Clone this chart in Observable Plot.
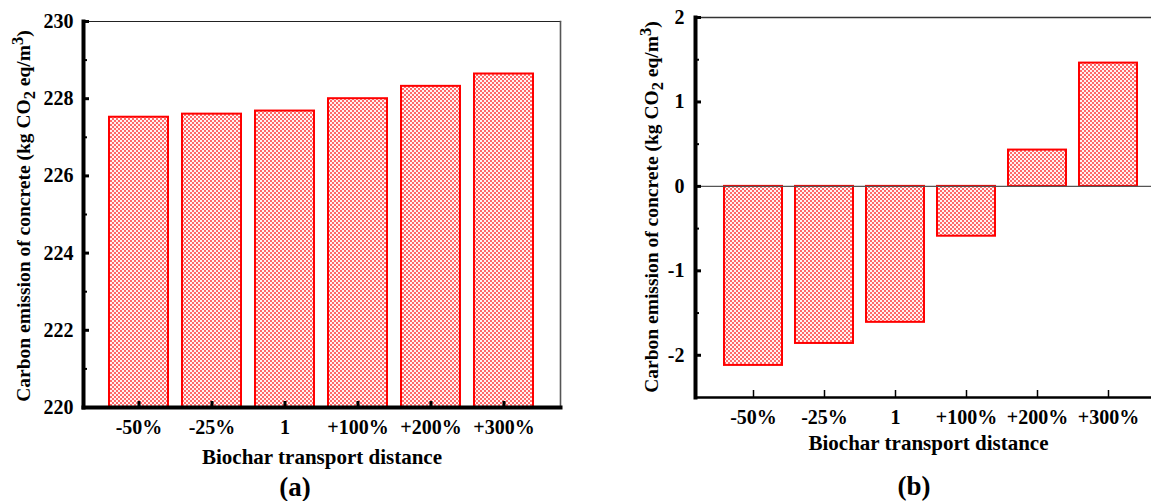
<!DOCTYPE html>
<html>
<head>
<meta charset="utf-8">
<script src="https://cdn.jsdelivr.net/npm/d3@7"></script>
<script src="https://cdn.jsdelivr.net/npm/@observablehq/plot@0.6"></script>
<style>
  html, body { margin: 0; padding: 0; background: #fff; overflow: hidden; }
  #wrap { position: relative; width: 1151px; height: 501px; font-family: "Liberation Serif", "Times New Roman", serif; font-weight: bold; color: #000; }
  .panel { position: absolute; top: 0; }
  .ylab { position: absolute; white-space: nowrap; font-size: 19.5px; transform: translate(-50%, -50%) rotate(-90deg); }
  .ylab sub, .ylab sup { font-size: 0.85em; }
  .cap { position: absolute; font-size: 27px; transform: translate(-50%, -50%); }
</style>
</head>
<body>
<div id="wrap">
  <div class="panel" id="pa" style="left:0px"></div>
  <div class="panel" id="pb" style="left:600px"></div>
  <div class="ylab" style="left:24px; top:216px">Carbon emission of concrete (kg CO<sub>2</sub> eq/m<sup>3</sup>)</div>
  <div class="ylab" style="left:652px; top:207px">Carbon emission of concrete (kg CO<sub>2</sub> eq/m<sup>3</sup>)</div>
  <div class="cap" style="left:295px; top:487px">(a)</div>
  <div class="cap" style="left:914px; top:486px">(b)</div>
</div>
<script>
// ---- data ----
const categories = ["-50%", "-25%", "1", "+100%", "+200%", "+300%"];
const emissionA = [227.52, 227.60, 227.68, 228.00, 228.32, 228.64];
const changeB = [-2.12, -1.86, -1.61, -0.59, 0.43, 1.46];
const yTicksA = [220, 222, 224, 226, 228, 230];
const yMinorA = [221, 223, 225, 227, 229];
const yTicksB = [-2, -1, 0, 1, 2];
const yMinorB = [-1.5, -0.5, 0.5, 1.5];
const xTitle = "Biochar transport distance";

const dataA = categories.map((c, i) => ({cat: c, value: emissionA[i]}));
const dataB = categories.map((c, i) => ({cat: c, value: changeB[i]}));

const RED = "#ff0000";
const font = "'Liberation Serif', 'Times New Roman', serif";

function addPattern(svg, id) {
  const ns = "http://www.w3.org/2000/svg";
  const defs = document.createElementNS(ns, "defs");
  const pat = document.createElementNS(ns, "pattern");
  pat.setAttribute("id", id);
  pat.setAttribute("patternUnits", "userSpaceOnUse");
  pat.setAttribute("width", "4");
  pat.setAttribute("height", "4");
  const bg = document.createElementNS(ns, "rect");
  bg.setAttribute("width", "4"); bg.setAttribute("height", "4");
  bg.setAttribute("fill", "#ff6a6a");
  pat.appendChild(bg);
  for (const [x, y] of [[0, 0], [2, 2]]) {
    const r = document.createElementNS(ns, "rect");
    r.setAttribute("x", x); r.setAttribute("y", y);
    r.setAttribute("width", "2"); r.setAttribute("height", "2");
    r.setAttribute("fill", "#fff4f4");
    pat.appendChild(r);
  }
  defs.appendChild(pat);
  svg.insertBefore(defs, svg.firstChild);
}

// ---- panel (a) ----
{
  const W = 580, H = 470, mL = 83, mR = 20, mT = 21, mB = 63;
  const fw = W - mL - mR, fh = H - mT - mB;
  const svg = Plot.plot({
    width: W, height: H,
    marginLeft: mL, marginRight: mR, marginTop: mT, marginBottom: mB,
    style: {fontFamily: font, fontWeight: "bold", background: "#fff", color: "#000", overflow: "visible"},
    x: {domain: categories, paddingInner: 0.19, paddingOuter: 0.36},
    y: {domain: [220, 230]},
    marks: [
      Plot.barY(dataA, {x: "cat", y1: 220, y2: "value", fill: "url(#hatchA)", stroke: RED, strokeWidth: 2}),
      Plot.frame({anchor: "top", stroke: "#222", strokeWidth: 1.2}),
      Plot.frame({anchor: "right", stroke: "#555", strokeWidth: 1.6}),
      Plot.frame({anchor: "bottom", stroke: "#000", strokeWidth: 4}),
      Plot.frame({anchor: "left", stroke: "#000", strokeWidth: 4}),
      Plot.tickY(yTicksA, {y: d => d, insetRight: fw - 6, stroke: "#000", strokeWidth: 3}),
      Plot.tickY(yMinorA, {y: d => d, insetRight: fw - 4, stroke: "#000", strokeWidth: 2}),
      Plot.tickX(categories, {x: d => d, insetTop: fh - 6, stroke: "#000", strokeWidth: 3}),
      Plot.axisY({ticks: yTicksA, tickSize: 0, tickPadding: 10, fontSize: 20, tickFormat: d => String(d), label: null}),
      Plot.axisX({tickSize: 0, tickPadding: 12, fontSize: 20, label: null}),
      Plot.text([xTitle], {frameAnchor: "bottom", dy: 50, lineAnchor: "middle", fontSize: 21, fontWeight: "bold"})
    ]
  });
  addPattern(svg, "hatchA");
  document.getElementById("pa").appendChild(svg);
}

// ---- panel (b) ----
{
  const W = 551, H = 470, mL = 95, mR = 0, mT = 17, mB = 73;
  const fw = W - mL - mR, fh = H - mT - mB;
  const svg = Plot.plot({
    width: W, height: H,
    marginLeft: mL, marginRight: mR, marginTop: mT, marginBottom: mB,
    style: {fontFamily: font, fontWeight: "bold", background: "#fff", color: "#000", overflow: "hidden"},
    x: {domain: categories, range: [mL, 565], paddingInner: 0.19, paddingOuter: 0.36},
    y: {domain: [-2.5, 2]},
    marks: [
      Plot.barY(dataB, {x: "cat", y: "value", fill: "url(#hatchB)", stroke: RED, strokeWidth: 2}),
      Plot.ruleY([0], {stroke: "#555", strokeWidth: 1.3}),
      Plot.frame({anchor: "top", stroke: "#333", strokeWidth: 1.4}),
      Plot.frame({anchor: "bottom", stroke: "#000", strokeWidth: 2.5}),
      Plot.frame({anchor: "left", stroke: "#000", strokeWidth: 4}),
      Plot.tickY(yTicksB, {y: d => d, insetRight: fw - 6, stroke: "#000", strokeWidth: 3}),
      Plot.tickY(yMinorB, {y: d => d, insetRight: fw - 4, stroke: "#000", strokeWidth: 2}),
      Plot.tickX(categories, {x: d => d, insetTop: fh - 7, stroke: "#000", strokeWidth: 1.5}),
      Plot.axisY({ticks: yTicksB, tickSize: 0, tickPadding: 11, fontSize: 20, tickFormat: d => String(d), label: null}),
      Plot.axisX({tickSize: 0, tickPadding: 12, fontSize: 20, label: null}),
      Plot.text([xTitle], {frameAnchor: "bottom", dy: 46, dx: 5, lineAnchor: "middle", fontSize: 21, fontWeight: "bold"})
    ]
  });
  addPattern(svg, "hatchB");
  document.getElementById("pb").appendChild(svg);
}
</script>
</body>
</html>
